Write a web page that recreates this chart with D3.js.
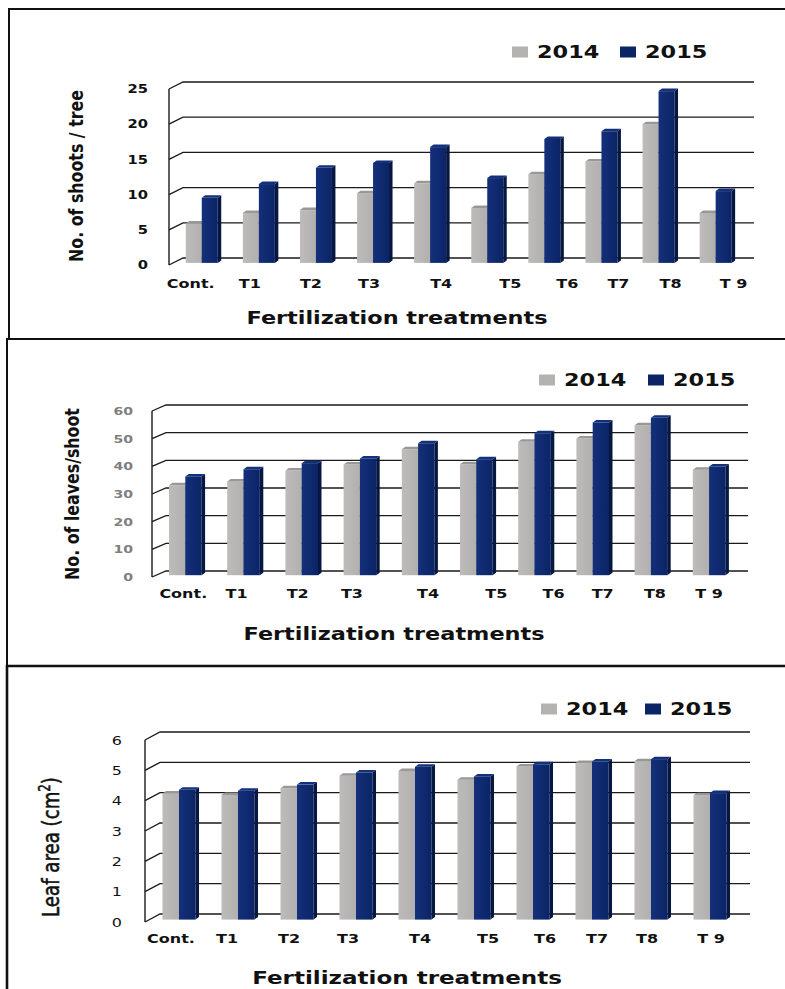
<!DOCTYPE html>
<html>
<head>
<meta charset="utf-8">
<script src="https://cdn.jsdelivr.net/npm/d3@7"></script>
<style>
  body { margin: 0; background: #fff; }
  svg { display: block; }
</style>
</head>
<body>
<script>
// categories and series
const categories = ["Cont.", "T1", "T2", "T3", "T4", "T5", "T6", "T7", "T8", "T 9"];
const years = ["2014", "2015"];

const shoots2014 = [5.6, 7.1, 7.5, 9.9, 11.3, 7.8, 12.6, 14.4, 19.7, 7.1];
const shoots2015 = [9.25, 11.2, 13.5, 14.2, 16.45, 12.05, 17.6, 18.7, 24.4, 10.2];
const shootTicks = [0, 5, 10, 15, 20, 25];

const leaves2014 = [32.5, 33.9, 37.8, 40.0, 45.5, 40.1, 48.2, 49.4, 54.2, 38.1];
const leaves2015 = [35.7, 38.3, 40.5, 42.2, 47.7, 41.9, 51.3, 55.2, 56.9, 39.3];
const leafTicks = [0, 10, 20, 30, 40, 50, 60];

const area2014 = [4.16, 4.11, 4.33, 4.74, 4.9, 4.61, 5.05, 5.16, 5.22, 4.1];
const area2015 = [4.28, 4.25, 4.45, 4.85, 5.04, 4.72, 5.12, 5.21, 5.29, 4.17];
const areaTicks = [0, 1, 2, 3, 4, 5, 6];

const W = 785, H = 989;
const SX = 1.28; // the picture is stretched sideways, text follows that

const colors = {
  "2014": { front: "#b2afaf", light: "#bebbbb", side: "#8c8989", top: "#9a9797" },
  "2015": { front: "#0b2466", light: "#14307a", side: "#061741", top: "#12307c" }
};

const panels = [
  {
    frame: { x: 9, y: 9, bottom: 339, w: 2 },
    series: [shoots2014, shoots2015], ticks: shootTicks,
    axisX: 169, right: 740, y0: 265, y1: 89, dx: 14, dy: -7,
    tickRight: 148, tickSize: 11.5, tickWeight: "bold", tickFill: "#111",
    labelY: 283, nudge: [-11, -9, -5, -4, 11, 23, 23, 17, 12, 18],
    yTitle: "No. of shoots / tree", yTitleX: 76, yTitleY: 176, yTitleLen: 172, yTitleWeight: "bold",
    xTitleX: 397, xTitleY: 318, xTitleSize: 17.5,
    legendX: 512, legendStep: 108, legendY: 52
  },
  {
    frame: { x: 7, y: 339, bottom: 666, w: 2 },
    series: [leaves2014, leaves2015], ticks: leafTicks,
    axisX: 152, right: 734, y0: 577, y1: 411, dx: 14, dy: -6,
    tickRight: 133, tickSize: 11, tickWeight: "bold", tickFill: "#7f7f7f",
    labelY: 593, nudge: [-2, -7, -4, -8, 10, 20, 19, 10, 4, 0],
    yTitle: "No. of leaves/shoot", yTitleX: 72, yTitleY: 494, yTitleLen: 172, yTitleWeight: "bold",
    xTitleX: 394, xTitleY: 634, xTitleSize: 17.5,
    legendX: 539, legendStep: 109, legendY: 380
  },
  {
    frame: { x: 7, y: 666, bottom: 989, w: 2.6 },
    series: [area2014, area2015], ticks: areaTicks,
    axisX: 145, right: 735, y0: 922, y1: 740, dx: 15, dy: -8,
    tickRight: 122, tickSize: 12.5, tickWeight: "normal", tickFill: "#111",
    labelY: 938, nudge: [-8, -11, -8, -8, 5, 14, 12, 5, -4, 1],
    yTitle: null, yTitleX: 51, yTitleY: 847, yTitleLen: 140, yTitleWeight: "normal",
    xTitleX: 407, xTitleY: 978, xTitleSize: 18,
    legendX: 541, legendStep: 104, legendY: 709
  }
];

const svg = d3.select("body").append("svg")
    .attr("width", W)
    .attr("height", H)
    .style("background", "#fff");

const defs = svg.append("defs");
years.forEach(k => {
  const g = defs.append("linearGradient").attr("id", "g" + k);
  g.append("stop").attr("offset", "0%").attr("stop-color", colors[k].light);
  g.append("stop").attr("offset", "100%").attr("stop-color", colors[k].front);
});

// stretched text helper
function stext(g, x, y, str, size, weight, anchor) {
  return g.append("text")
      .attr("transform", `translate(${x},${y}) scale(${SX},1)`)
      .attr("text-anchor", anchor || "start")
      .attr("font-family", "DejaVu Sans")
      .attr("font-size", size)
      .attr("font-weight", weight || "bold")
      .attr("fill", "#111")
      .text(str);
}

panels.forEach(p => {
  const g = svg.append("g");

  // frame (top + left edge)
  g.append("path")
      .attr("d", `M${p.frame.x},${p.frame.bottom}V${p.frame.y}H${W}`)
      .attr("fill", "none")
      .attr("stroke", "#111")
      .attr("stroke-width", p.frame.w);

  const max = p.ticks[p.ticks.length - 1];
  const y = d3.scaleLinear().domain([0, max]).range([p.y0, p.y1]);
  const x = d3.scaleBand().domain(categories).range([p.axisX, p.right]);
  const xs = d3.scaleBand().domain(years).range([0, x.bandwidth()]).paddingOuter(0.786);

  // back wall gridlines with the slanted side edge
  g.append("g")
    .selectAll("path")
    .data(p.ticks)
    .join("path")
      .attr("d", t => `M${p.axisX},${y(t)}l${p.dx},${p.dy}H${p.right + p.dx}`)
      .attr("fill", "none")
      .attr("stroke", "#1a1a1a")
      .attr("stroke-width", 1.3);

  g.append("line")
      .attr("x1", p.axisX).attr("x2", p.axisX)
      .attr("y1", y(0)).attr("y2", y(max))
      .attr("stroke", "#1a1a1a")
      .attr("stroke-width", 1.4);

  // tick labels
  g.append("g")
    .selectAll("text")
    .data(p.ticks)
    .join("text")
      .attr("transform", t => `translate(${p.tickRight},${y(t) + p.tickSize * 0.36}) scale(${SX},1)`)
      .attr("text-anchor", "end")
      .attr("font-family", "DejaVu Sans")
      .attr("font-size", p.tickSize)
      .attr("font-weight", p.tickWeight)
      .attr("fill", p.tickFill)
      .text(d => d);

  // 3d columns
  const f = 0.3;
  const offX = f * p.dx, offY = f * p.dy;
  const bdx = 3.5, bdy = -2.5;
  const rows = categories.map((c, i) => ({ c, i }));
  const cat = g.append("g")
    .selectAll("g")
    .data(rows)
    .join("g");

  years.forEach((k, si) => {
    const col = colors[k];
    const bar = cat.append("g");
    const bx = d => x(d.c) + xs(k) + offX;
    const bw = xs.bandwidth();
    const base = y(0) + offY;
    const topY = d => y(p.series[si][d.i]) + offY;

    bar.append("rect")
        .attr("x", bx)
        .attr("y", topY)
        .attr("width", bw)
        .attr("height", d => base - topY(d))
        .attr("fill", `url(#g${k})`);
    bar.append("path")
        .attr("d", d => `M${bx(d) + bw},${topY(d)}l${bdx},${bdy}V${base + bdy}l${-bdx},${-bdy}Z`)
        .attr("fill", col.side);
    bar.append("path")
        .attr("d", d => `M${bx(d)},${topY(d)}l${bdx},${bdy}h${bw}l${-bdx},${-bdy}Z`)
        .attr("fill", col.top);
  });

  // category labels
  g.append("g")
    .selectAll("text")
    .data(categories)
    .join("text")
      .attr("transform", (d, i) => `translate(${x(d) + x.bandwidth() / 2 + offX + p.nudge[i]},${p.labelY + 4.5}) scale(${SX},1)`)
      .attr("text-anchor", "middle")
      .attr("font-family", "DejaVu Sans")
      .attr("font-size", 12.5)
      .attr("font-weight", "bold")
      .attr("fill", "#111")
      .text(d => d);

  // x title
  stext(g, p.xTitleX, p.xTitleY + p.xTitleSize * 0.36, "Fertilization treatments", p.xTitleSize, "bold", "middle");

  // y title, fitted to the length seen in the picture
  const yt = g.append("text")
      .attr("text-anchor", "middle")
      .attr("font-family", "DejaVu Sans")
      .attr("font-size", 16)
      .attr("font-weight", p.yTitleWeight)
      .attr("fill", "#111");
  if (p.yTitle === null) {
    yt.attr("stroke", "#111").attr("stroke-width", 0.45);
    yt.append("tspan").text("Leaf area (cm");
    yt.append("tspan").attr("class", "sup").attr("font-size", 10.5).attr("dy", -6.5).text("2");
    yt.append("tspan").attr("class", "after").attr("dy", 6.5).text(")");
  } else {
    yt.text(p.yTitle);
  }
  const len = yt.node().getComputedTextLength() || p.yTitleLen;
  const fs = 16 * p.yTitleLen / len;
  yt.attr("font-size", fs);
  yt.select(".sup").attr("font-size", fs * 0.65).attr("dy", -fs * 0.4);
  yt.select(".after").attr("dy", fs * 0.4);
  const cap = 0.73 * fs * SX;
  yt.attr("transform", `translate(${p.yTitleX + cap / 2},${p.yTitleY}) rotate(-90) scale(1,${SX})`);

  // legend
  const lg = g.append("g");
  years.forEach((k, i) => {
    const lx = p.legendX + i * p.legendStep;
    lg.append("rect")
        .attr("x", lx).attr("y", p.legendY - 5.5)
        .attr("width", 16).attr("height", 11)
        .attr("fill", k === "2014" ? "#b5b2b2" : colors[k].front);
    stext(lg, lx + 25, p.legendY + 6.3, k, 17.5, "bold", "start");
  });
});
</script>
</body>
</html>
